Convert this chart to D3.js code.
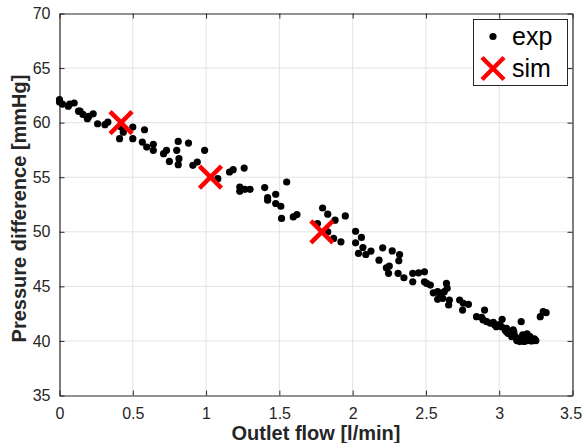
<!DOCTYPE html>
<html>
<head>
<meta charset="utf-8">
<script src="https://cdn.jsdelivr.net/npm/d3@7"></script>
<style>
  body { margin: 0; background: #fff; }
  svg { display: block; font-family: "Liberation Sans", Arial, sans-serif; }
</style>
</head>
<body>
<svg id="chart" width="582" height="443"></svg>
<script>
// measured points (flow in l/min, pressure difference in mmHg)
var expFlow = [0.00, 0.00, 0.02, 0.06, 0.07, 0.10, 0.13, 0.14, 0.16, 0.19, 0.20, 0.23, 0.26, 0.31, 0.33,
    0.41, 0.435, 0.42, 0.50, 0.50, 0.58, 0.565, 0.595, 0.64, 0.64, 0.71, 0.73, 0.75, 0.80, 0.81, 0.815, 0.81,
    0.88, 0.91, 0.94, 0.99, 1.08, 1.16, 1.185, 1.26, 1.23, 1.23, 1.265, 1.30, 1.40, 1.55, 1.42, 1.42,
    1.475, 1.475, 1.51, 1.515, 1.595, 1.62, 1.795, 1.83, 1.88, 1.95, 1.76, 1.83, 1.87, 1.92,
    2.02, 2.06, 2.02, 2.07, 2.04, 2.09, 2.125, 2.205, 2.27, 2.32, 2.18, 2.315, 2.23, 2.25, 2.245, 2.31,
    2.35, 2.41, 2.45, 2.49, 2.41, 2.49, 2.505, 2.53, 2.55, 2.58, 2.595, 2.64, 2.645, 2.625, 2.58, 2.615,
    2.66, 2.655, 2.73, 2.755, 2.79, 2.75, 2.845, 2.88, 2.90, 2.89, 2.915, 2.94, 2.97, 2.98, 3.02, 3.015,
    3.04, 3.05, 3.07, 3.095, 3.095, 3.15, 3.11, 3.12, 3.14, 3.16, 3.19, 3.21, 3.23, 3.25, 3.16, 3.19,
    3.21, 3.28, 3.30, 3.32, 3.05, 3.085, 3.13, 3.06, 3.17, 3.22, 3.18, 3.24, 3.10, 2.96, 3.00];
var expPressure = [62.1, 61.9, 61.7, 61.5, 61.7, 61.8, 61.05, 61.05, 60.75, 60.36, 60.57, 60.81, 59.9, 59.81, 60.05,
    58.53, 59.13, 59.6, 59.59, 58.53, 59.35, 58.22, 57.76, 58.01, 57.46, 57.16, 57.46, 56.45, 57.46, 58.28, 56.70, 56.15,
    58.13, 56.09, 56.39, 57.46, 54.87, 55.48, 55.69, 55.84, 54.10, 53.71, 53.89, 53.89, 54.05, 54.56, 53.14, 52.89,
    53.44, 52.59, 52.34, 51.22, 51.36, 51.58, 52.18, 51.61, 51.06, 51.45, 50.76, 49.99, 49.39, 49.08,
    50.05, 49.48, 48.99, 48.56, 48.02, 47.92, 48.23, 48.53, 48.25, 47.92, 47.40, 47.34, 46.70, 46.86, 46.19, 46.19,
    45.79, 46.19, 46.24, 46.33, 45.42, 45.42, 45.27, 45.12, 44.41, 44.51, 44.20, 45.27, 44.82, 44.51, 43.81, 43.90,
    43.75, 43.29, 43.75, 43.45, 43.35, 42.83, 42.22, 42.17, 42.83, 41.92, 41.76, 41.62, 41.46, 41.31, 41.98, 41.31,
    41.01, 41.16, 40.70, 41.01, 40.55, 41.76, 40.39, 40.03, 39.94, 40.09, 40.03, 40.09, 40.09, 40.03, 40.55, 40.64,
    40.39, 42.22, 42.68, 42.59, 40.85, 40.39, 40.2, 40.7, 39.95, 40.0, 40.3, 40.2, 40.8, 41.7, 41.5];

// simulation points
var simFlow = [0.42, 1.03, 1.79];
var simPressure = [60, 55, 50];

var xTicks = [0, 0.5, 1, 1.5, 2, 2.5, 3, 3.5];
var yTicks = [35, 40, 45, 50, 55, 60, 65, 70];

var svg = d3.select("#chart");
var margin = {left: 59.5, right: 572.5, top: 13.5, bottom: 395.5};
var axisColor = "#262626";

var x = d3.scaleLinear().domain([0, 3.5]).range([margin.left, margin.right]);
var y = d3.scaleLinear().domain([35, 70]).range([margin.bottom, margin.top]);

// grid
var grid = svg.append("g").attr("class", "grid");
grid.selectAll("line.gx")
    .data(xTicks.slice(1, -1))
    .enter().append("line")
    .attr("x1", function (d) { return x(d); })
    .attr("x2", function (d) { return x(d); })
    .attr("y1", margin.top)
    .attr("y2", margin.bottom)
    .attr("stroke", "#e3e3e3")
    .attr("stroke-width", 1);
grid.selectAll("line.gy")
    .data(yTicks.slice(1, -1))
    .enter().append("line")
    .attr("y1", function (d) { return y(d); })
    .attr("y2", function (d) { return y(d); })
    .attr("x1", margin.left)
    .attr("x2", margin.right)
    .attr("stroke", "#e3e3e3")
    .attr("stroke-width", 1);

// axes (ticks point inwards, like matlab)
function styleAxis(g) {
    g.select(".domain").attr("stroke", axisColor);
    g.selectAll(".tick line").attr("stroke", axisColor);
    g.selectAll(".tick text")
        .attr("fill", axisColor)
        .style("font-size", "16px");
}

var xAxisG = svg.append("g")
    .attr("transform", "translate(0," + margin.bottom + ")")
    .call(d3.axisBottom(x).tickValues(xTicks).tickSizeInner(-5).tickSizeOuter(0).tickPadding(12)
        .tickFormat(d3.format("")))
    .call(styleAxis);
// last label sits at the window edge, nudge it in a little
xAxisG.selectAll(".tick text")
    .filter(function (d) { return d === 3.5; })
    .attr("dx", -2);

svg.append("g")
    .attr("transform", "translate(0," + margin.top + ")")
    .call(d3.axisTop(x).tickValues(xTicks).tickSizeInner(-5).tickSizeOuter(0).tickFormat(""))
    .call(styleAxis);
svg.append("g")
    .attr("transform", "translate(" + margin.left + ",0)")
    .call(d3.axisLeft(y).tickValues(yTicks).tickSizeInner(-5).tickSizeOuter(0).tickPadding(9))
    .call(styleAxis);
svg.append("g")
    .attr("transform", "translate(" + margin.right + ",0)")
    .call(d3.axisRight(y).tickValues(yTicks).tickSizeInner(-5).tickSizeOuter(0).tickFormat(""))
    .call(styleAxis);

svg.selectAll(".domain").attr("stroke-width", 1.2);

// axis labels
svg.append("text")
    .attr("x", (margin.left + margin.right) / 2)
    .attr("y", 439.5)
    .attr("text-anchor", "middle")
    .style("font-size", "20px")
    .style("font-weight", "bold")
    .attr("fill", axisColor)
    .text("Outlet flow [l/min]");
svg.append("text")
    .attr("transform", "translate(26," + ((margin.top + margin.bottom) / 2 + 4) + ") rotate(-90)")
    .attr("text-anchor", "middle")
    .style("font-size", "20px")
    .style("font-weight", "bold")
    .attr("fill", axisColor)
    .text("Pressure difference [mmHg]");

// experimental data
var expData = expFlow.map(function (f, i) { return {x: f, y: expPressure[i]}; });
svg.append("g")
    .selectAll("circle")
    .data(expData)
    .enter().append("circle")
    .attr("cx", function (d) { return x(d.x); })
    .attr("cy", function (d) { return y(d.y); })
    .attr("r", 3.6)
    .attr("fill", "#000");

// simulation crosses
function cross(g, size) {
    g.append("line").attr("x1", -size).attr("y1", -size).attr("x2", size).attr("y2", size);
    g.append("line").attr("x1", -size).attr("y1", size).attr("x2", size).attr("y2", -size);
}
var simData = simFlow.map(function (f, i) { return {x: f, y: simPressure[i]}; });
svg.append("g")
    .selectAll("g")
    .data(simData)
    .enter().append("g")
    .attr("transform", function (d) { return "translate(" + x(d.x) + "," + y(d.y) + ")"; })
    .attr("stroke", "#ff0000")
    .attr("stroke-width", 4.5)
    .each(function () { cross(d3.select(this), 11); });

// legend
var legend = svg.append("g");
legend.append("rect")
    .attr("x", 473.5).attr("y", 19.5)
    .attr("width", 94).attr("height", 66)
    .attr("fill", "#fff")
    .attr("stroke", axisColor)
    .attr("stroke-width", 1);
legend.append("circle")
    .attr("cx", 493).attr("cy", 36.5)
    .attr("r", 3.6)
    .attr("fill", "#000");
legend.append("g")
    .attr("transform", "translate(493,68.5)")
    .attr("stroke", "#ff0000")
    .attr("stroke-width", 4.5)
    .call(cross, 11);
legend.selectAll("text.lbl")
    .data(["exp", "sim"])
    .enter().append("text")
    .attr("x", 512)
    .attr("y", function (d, i) { return 45 + i * 32; })
    .style("font-size", "25px")
    .attr("fill", "#000")
    .text(function (d) { return d; });
</script>
</body>
</html>
